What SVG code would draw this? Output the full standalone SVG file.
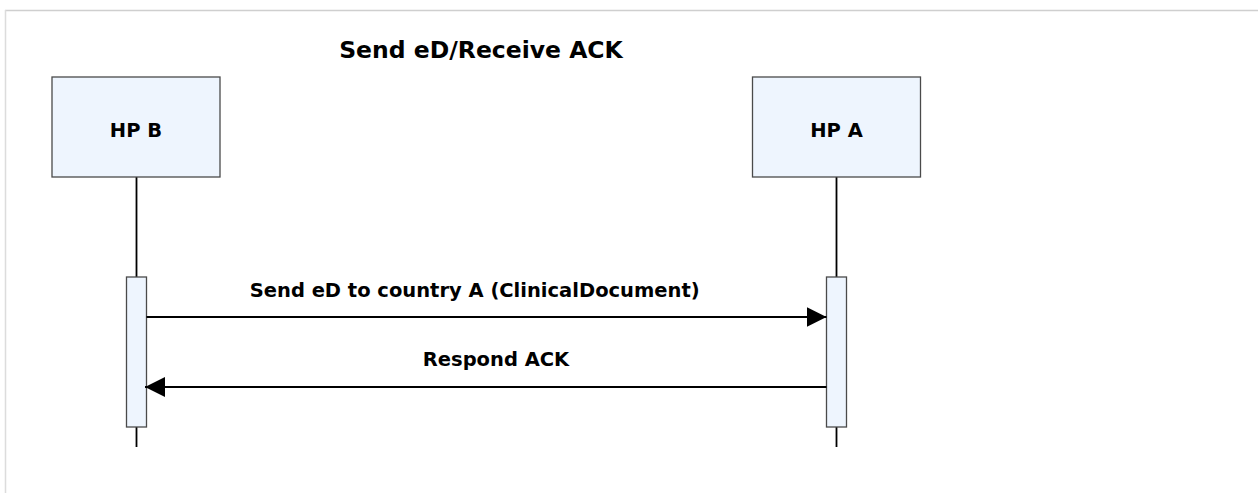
<svg xmlns="http://www.w3.org/2000/svg" width="1258" height="493" viewBox="0 0 1258 493">
  <defs>
    <style>
      .t { font-family: "DejaVu Sans", Verdana, sans-serif; font-weight: bold; fill: #000; text-anchor: middle; }
      .node { fill: #eef5fe; stroke: #4a4a4a; stroke-width: 1.3; }
      .life { stroke: #000; stroke-width: 1.8; fill: none; }
      .msg { stroke: #000; stroke-width: 2; fill: none; }
    </style>
    <marker id="ah" markerWidth="20" markerHeight="20" viewBox="0 0 20 20" refX="20" refY="10" orient="auto" markerUnits="userSpaceOnUse">
      <path d="M0,0 L20,10 L0,20 Z" fill="#000"/>
    </marker>
  </defs>
  <rect width="1258" height="493" fill="#fff"/>
  <g id="frame">
    <line x1="5" y1="10.5" x2="1258" y2="10.5" stroke="#cfcfcf" stroke-width="1.3"/>
    <line x1="5.5" y1="10" x2="5.5" y2="493" stroke="#dcdcdc" stroke-width="1.5"/>
  </g>
  <text class="t" x="481" y="58" font-size="23.5">Send eD/Receive ACK</text>

  <g id="lifelines">
    <line class="life" x1="136.5" y1="177" x2="136.5" y2="447"/>
    <line class="life" x1="836.5" y1="177" x2="836.5" y2="447"/>
  </g>

  <g id="hpB">
    <rect class="node" x="52" y="77" width="168" height="100"/>
    <text class="t" x="136" y="137" font-size="19.5">HP B</text>
  </g>
  <g id="hpA">
    <rect class="node" x="752.5" y="77" width="168" height="100"/>
    <text class="t" x="836.5" y="137" font-size="19.5">HP A</text>
  </g>

  <g id="actB">
    <rect class="node" x="126.5" y="277" width="20" height="150"/>
  </g>
  <g id="actA">
    <rect class="node" x="826.5" y="277" width="20" height="150"/>
  </g>

  <g id="connectors">
    <line class="msg" x1="146.5" y1="317" x2="826.5" y2="317" marker-end="url(#ah)"/>
    <text class="t" x="474.7" y="297.3" font-size="19.5">Send eD to country A (ClinicalDocument)</text>
    <line class="msg" x1="826.5" y1="387" x2="145" y2="387" marker-end="url(#ah)"/>
    <text class="t" x="496" y="365.7" font-size="19.5">Respond ACK</text>
  </g>
</svg>
